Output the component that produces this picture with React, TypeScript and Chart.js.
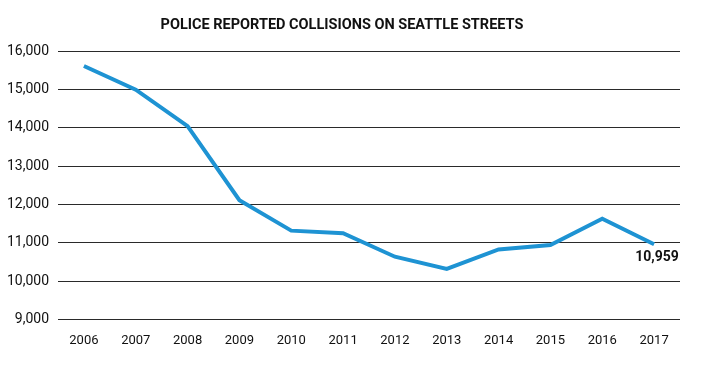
import React, { useEffect, useRef } from "react";
import { Chart, registerables } from "chart.js";

Chart.register(...registerables);

const TITLE = "POLICE REPORTED COLLISIONS ON SEATTLE STREETS";
const YEARS = ["2006", "2007", "2008", "2009", "2010", "2011", "2012", "2013", "2014", "2015", "2016", "2017"];
const COLLISIONS = [15610, 14990, 14040, 12110, 11315, 11250, 10635, 10315, 10825, 10940, 11625, 10959];
const Y_MIN = 9000;
const Y_MAX = 16000;
const Y_STEP = 1000;
const LAST_LABEL = "10,959";

const annotate = {
  id: "annotate",
  afterDraw(chart: any) {
    const ctx = chart.ctx;
    const area = chart.chartArea;
    ctx.save();
    ctx.fillStyle = "#111";
    ctx.textAlign = "center";
    ctx.textBaseline = "middle";
    ctx.font = "bold 14.5px Roboto";
    ctx.fillText(TITLE, (area.left + area.right) / 2 - 27, 17);
    const meta = chart.getDatasetMeta(0);
    const pt = meta.data[meta.data.length - 1];
    ctx.font = "bold 14px Roboto";
    ctx.fillText(LAST_LABEL, pt.x + 3, pt.y + 13);
    ctx.restore();
  },
};

export default function App() {
  const ref = useRef<HTMLCanvasElement | null>(null);
  useEffect(() => {
    if (!ref.current) return;
    const chart = new Chart(ref.current, {
      type: "line",
      data: {
        labels: YEARS,
        datasets: [
          {
            data: COLLISIONS,
            borderColor: "#1e93d3",
            borderWidth: 4,
            pointRadius: 0,
            tension: 0,
            fill: false,
          },
        ],
      },
      options: {
        responsive: false,
        animation: false,
        layout: { padding: { top: 43, right: 26, bottom: 13, left: 0 } },
        plugins: { legend: { display: false }, tooltip: { enabled: false }, title: { display: false } },
        scales: {
          x: {
            offset: true,
            grid: { display: false, drawTicks: false },
            border: { display: false },
            ticks: { color: "#111", font: { family: "Roboto", size: 13 }, padding: 14, maxRotation: 0 },
          },
          y: {
            min: Y_MIN,
            max: Y_MAX,
            grid: { color: "#2a2a2a", lineWidth: 1, drawTicks: false },
            border: { display: false },
            ticks: {
              stepSize: Y_STEP,
              color: "#111",
              padding: 9,
              font: { family: "Roboto", size: 14 },
              callback: (v: any) => Number(v).toLocaleString("en-US"),
            },
            afterFit: (s: any) => {
              s.width = 50;
            },
          },
        },
      },
      plugins: [annotate],
    });
    return () => chart.destroy();
  }, []);
  return <canvas ref={ref} width={698} height={368} style={{ display: "block" }} />;
}
